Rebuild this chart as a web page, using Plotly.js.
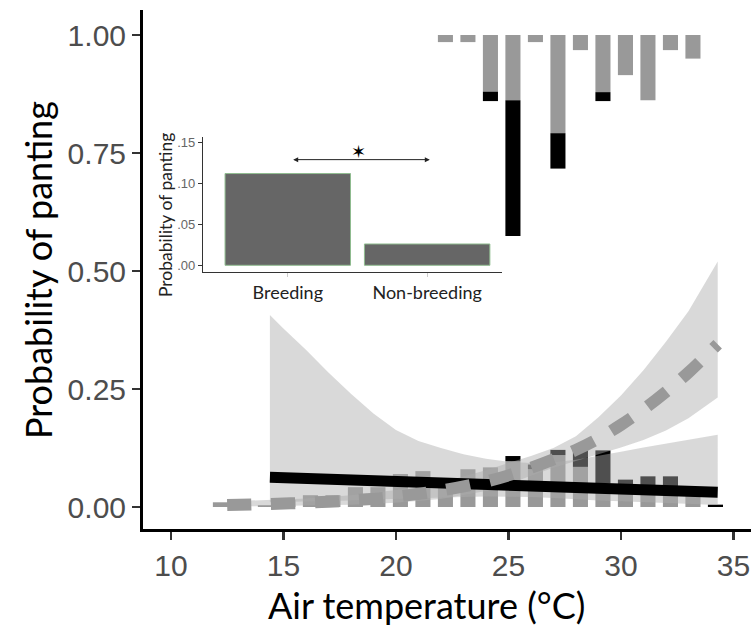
<!DOCTYPE html>
<html>
<head>
<meta charset="utf-8">
<script src="https://cdn.plot.ly/plotly-3.0.1.min.js"></script>
<style>
  html, body { margin: 0; padding: 0; background: #fff; }
  #chart { width: 751px; height: 631px; }
</style>
</head>
<body>
<div id="chart"></div>
<script>
// Histogram bins of air temperature (°C)
const binTemps = [12.2, 13.2, 14.2, 15.2, 16.2, 17.2, 18.2, 19.2, 20.2, 21.2, 22.2, 23.2,
                  24.2, 25.2, 26.2, 27.2, 28.2, 29.2, 30.2, 31.2, 32.2, 33.2, 34.2];

// Panting observations (bars hanging from 1.00), scaled counts
const pantNonBreeding = [0, 0, 0, 0, 0, 0, 0, 0, 0, 0, 0.015, 0.015,
                         0.12, 0.138, 0.015, 0.208, 0.032, 0.121, 0.085, 0.138, 0.032, 0.05, 0];
const pantBreeding    = [0, 0, 0, 0, 0, 0, 0, 0, 0, 0, 0, 0,
                         0.02, 0.288, 0, 0.075, 0, 0.019, 0, 0, 0, 0, 0];

// Non-panting observations (bars rising from 0.00), scaled counts
const restNonBreeding = [0.01, 0, 0.004, 0.015, 0.025, 0.025, 0.042, 0.042, 0.07, 0.076, 0.045, 0.08,
                         0.084, 0.097, 0.08, 0.11, 0.085, 0.05, 0.03, 0.03, 0.03, 0.03, 0];
const restBreeding    = [0, 0, 0, 0, 0, 0, 0, 0, 0, 0, 0, 0,
                         0, 0.011, 0.01, 0.011, 0.035, 0.07, 0.028, 0.035, 0.035, 0, 0.005];

// Fitted probability and 95% band, breeding season
const fitTempsB  = [14.4, 15, 16, 17, 18, 19, 20, 21, 22, 23, 24, 25, 26, 27, 28, 29, 30, 31, 32, 33, 34.3];
const fitB       = [0.063, 0.062, 0.06, 0.059, 0.057, 0.056, 0.054, 0.053, 0.051, 0.049, 0.048, 0.046, 0.044, 0.043, 0.041, 0.04, 0.038, 0.036, 0.035, 0.033, 0.031];
const upperB     = [0.407, 0.378, 0.333, 0.285, 0.24, 0.198, 0.163, 0.14, 0.125, 0.112, 0.102, 0.096, 0.093, 0.095, 0.1, 0.108, 0.117, 0.126, 0.134, 0.143, 0.153];
const lowerB     = [0.01, 0.011, 0.012, 0.013, 0.014, 0.016, 0.017, 0.018, 0.02, 0.021, 0.022, 0.022, 0.021, 0.019, 0.017, 0.014, 0.012, 0.01, 0.008, 0.006, 0.004];

// Fitted probability and 95% band, non-breeding season
const fitTempsN  = [12.5, 14, 16, 18, 20, 22, 24, 25, 26, 27, 28, 29, 30, 31, 32, 33, 34.3];
const fitN       = [0.004, 0.006, 0.009, 0.014, 0.022, 0.035, 0.054, 0.067, 0.083, 0.101, 0.121, 0.145, 0.174, 0.207, 0.244, 0.285, 0.345];
const upperN     = [0.012, 0.014, 0.018, 0.025, 0.036, 0.052, 0.078, 0.093, 0.108, 0.125, 0.15, 0.19, 0.236, 0.29, 0.35, 0.415, 0.52];
const lowerN     = [0.001, 0.002, 0.003, 0.005, 0.009, 0.017, 0.034, 0.048, 0.066, 0.083, 0.098, 0.112, 0.126, 0.142, 0.162, 0.188, 0.232];

// Inset: mean probability of panting by season
const seasons     = ['Breeding', 'Non-breeding'];
const seasonProb  = [0.112, 0.026];
const insetTicks  = [0, 0.05, 0.10, 0.15];
const insetLabels = ['.00', '.05', '.10', '.15'];

const mainTicksX  = [10, 15, 20, 25, 30, 35];
const mainTicksY  = [0, 0.25, 0.5, 0.75, 1];
const mainLabelsY = ['0.00', '0.25', '0.50', '0.75', '1.00'];

const GREY = '#999999';
const BAND = 'rgba(173,173,173,0.46)';
const BAR_W = 0.67;

function band(xs, lo, hi) {
  return {
    x: xs.concat(xs.slice().reverse()),
    y: hi.concat(lo.slice().reverse())
  };
}

const bandB = band(fitTempsB, lowerB, upperB);
const bandN = band(fitTempsN, lowerN, upperN);

const ones = binTemps.map(() => 1);
const topBlackBase = pantNonBreeding.map(v => 1 - v);
const botBlackBase = restNonBreeding.slice();

const traces = [
  // bars hanging from 1
  { type: 'bar', x: binTemps, y: pantNonBreeding.map(v => -v), base: ones,
    width: BAR_W, marker: { color: GREY, line: { width: 0 } } },
  { type: 'bar', x: binTemps, y: pantBreeding.map(v => -v), base: topBlackBase,
    width: BAR_W, marker: { color: '#000000', line: { width: 0 } } },

  // bars rising from 0
  { type: 'bar', x: binTemps, y: restNonBreeding, base: 0,
    width: BAR_W, marker: { color: GREY, line: { width: 0 } } },
  { type: 'bar', x: binTemps, y: restBreeding, base: botBlackBase,
    width: BAR_W, marker: { color: '#000000', line: { width: 0 } } },

  // confidence bands (translucent, over the bars)
  { type: 'scatter', x: bandN.x, y: bandN.y, fill: 'toself', fillcolor: BAND,
    line: { width: 0 }, mode: 'lines', hoverinfo: 'skip' },
  { type: 'scatter', x: bandB.x, y: bandB.y, fill: 'toself', fillcolor: BAND,
    line: { width: 0 }, mode: 'lines', hoverinfo: 'skip' },

  // fitted curves
  { type: 'scatter', mode: 'lines', x: fitTempsB, y: fitB,
    line: { color: '#000000', width: 11 } },
  { type: 'scatter', mode: 'lines', x: fitTempsN, y: fitN,
    line: { color: GREY, width: 12, dash: '24px,20px', shape: 'spline' } },

  // inset bars
  { type: 'bar', x: seasons, y: seasonProb, xaxis: 'x2', yaxis: 'y2', width: 0.9,
    marker: { color: '#666666', line: { color: '#8fbc8f', width: 1 } } }
];

const axisBase = {
  showgrid: false, zeroline: false, showline: true,
  linecolor: '#000000', linewidth: 3,
  ticks: 'outside', ticklen: 8, tickwidth: 2.5, tickcolor: '#333333',
  tickfont: { family: 'Liberation Sans, Arial, sans-serif', size: 30, color: '#4d4d4d' }
};

const layout = {
  width: 751, height: 631,
  margin: { l: 143, r: 0, t: 10, b: 102 },
  paper_bgcolor: '#ffffff', plot_bgcolor: 'rgba(0,0,0,0)',
  showlegend: false, barmode: 'overlay',
  xaxis: Object.assign({}, axisBase, { range: [8.76, 35.78], tickvals: mainTicksX }),
  yaxis: Object.assign({}, axisBase, { range: [-0.0466, 1.053], tickvals: mainTicksY, ticktext: mainLabelsY }),
  xaxis2: {
    domain: [0.0992, 0.590], anchor: 'y2', type: 'category', range: [-0.606, 1.535],
    showgrid: false, zeroline: false, showline: true, linecolor: '#333333', linewidth: 1.5,
    ticks: 'outside', ticklen: 4, tickwidth: 1, tickcolor: '#cccccc',
    tickfont: { family: 'Lato, sans-serif', size: 18, color: '#222222' }
  },
  yaxis2: {
    domain: [0.4958, 0.7559], anchor: 'x2', range: [-0.0078, 0.157],
    tickvals: insetTicks, ticktext: insetLabels,
    showgrid: false, zeroline: false, showline: true, linecolor: '#333333', linewidth: 1.5,
    ticks: 'outside', ticklen: 4, tickwidth: 1, tickcolor: '#333333',
    tickfont: { family: 'Liberation Sans, Arial, sans-serif', size: 13, color: '#666666' }
  },
  annotations: [
    { text: 'Probability of panting', xref: 'paper', yref: 'paper', x: -0.1727, y: 0.499,
      textangle: -90, showarrow: false, xanchor: 'center', yanchor: 'middle',
      font: { family: 'Lato, sans-serif', size: 36, color: '#000000' } },
    { text: 'Air temperature (°C)', xref: 'paper', yref: 'paper', x: 0.467, y: -0.1464,
      showarrow: false, xanchor: 'center', yanchor: 'middle',
      font: { family: 'Lato, sans-serif', size: 36, color: '#000000' } },
    { text: 'Probability of panting', xref: 'paper', yref: 'paper', x: 0.0362, y: 0.605,
      textangle: -90, showarrow: false, xanchor: 'center', yanchor: 'middle',
      font: { family: 'Lato, sans-serif', size: 17.5, color: '#222222' } },
    { text: '', xref: 'x2', yref: 'y2', axref: 'x2', ayref: 'y2',
      x: 1.019, y: 0.129, ax: 0.028, ay: 0.129, showarrow: true,
      arrowside: 'end+start', arrowhead: 2, arrowsize: 1, arrowwidth: 1, arrowcolor: '#222222' },
    { text: '✶', xref: 'x2', yref: 'y2', x: 0.505, y: 0.139, showarrow: false,
      font: { family: 'DejaVu Sans, sans-serif', size: 18, color: '#000000' } }
  ]
};

Plotly.newPlot('chart', traces, layout, { displayModeBar: false, staticPlot: true });
</script>
</body>
</html>
